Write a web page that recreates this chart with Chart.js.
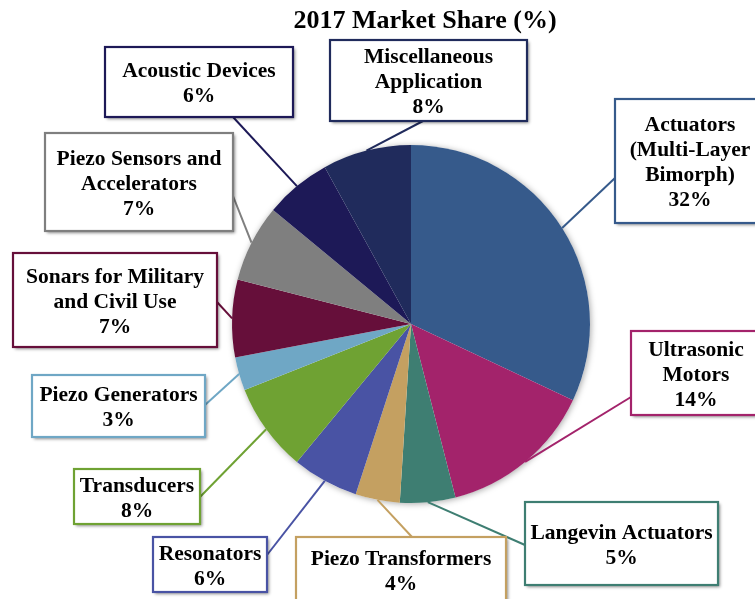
<!DOCTYPE html>
<html>
<head>
<meta charset="utf-8">
<script src="https://cdn.jsdelivr.net/npm/chart.js@4"></script>
<style>
  body { margin: 0; background: #fff; }
</style>
</head>
<body>
<canvas id="myChart" width="755" height="599"></canvas>
<script>
const ctx = document.getElementById('myChart');

// data, clockwise from 12 o'clock
const labels = [
	"Actuators (Multi-Layer Bimorph)", "Ultrasonic Motors", "Langevin Actuators",
	"Piezo Transformers", "Resonators", "Transducers", "Piezo Generators",
	"Sonars for Military and Civil Use", "Piezo Sensors and Accelerators",
	"Acoustic Devices", "Miscellaneous Application"
];
const shares = [32, 14, 5, 4, 6, 8, 3, 7, 7, 6, 8];
const colors = [
	"#365a8b", "#a3236b", "#3e7e72", "#c4a061", "#4953a4", "#6fa233",
	"#6fa7c5", "#660f3a", "#7f7f7f", "#1d1957", "#202b5c"
];
// text lines of each callout (percent added from shares)
const calloutText = [
	["Actuators", "(Multi-Layer", "Bimorph)"],
	["Ultrasonic", "Motors"],
	["Langevin Actuators"],
	["Piezo Transformers"],
	["Resonators"],
	["Transducers"],
	["Piezo Generators"],
	["Sonars for Military", "and Civil Use"],
	["Piezo Sensors and", "Accelerators"],
	["Acoustic Devices"],
	["Miscellaneous", "Application"]
];

// callout boxes: x, y, w, h and where the leader leaves the box
const boxes = [
	{ x: 615, y: 99, w: 150, h: 124, lx: 615, ly: 178 },
	{ x: 631, y: 331, w: 130, h: 84, lx: 631, ly: 397 },
	{ x: 525, y: 502, w: 193, h: 83, lx: 525, ly: 545 },
	{ x: 296, y: 537, w: 210, h: 66, lx: 412, ly: 537 },
	{ x: 153, y: 537, w: 114, h: 55, lx: 267, ly: 555 },
	{ x: 74, y: 469, w: 126, h: 55, lx: 200, ly: 497 },
	{ x: 32, y: 375, w: 173, h: 62, lx: 205, ly: 405 },
	{ x: 13, y: 253, w: 204, h: 94, lx: 217, ly: 302 },
	{ x: 45, y: 133, w: 188, h: 98, lx: 233, ly: 196 },
	{ x: 105, y: 47, w: 188, h: 70, lx: 233, ly: 117 },
	{ x: 330, y: 40, w: 197, h: 81, lx: 423, ly: 121 }
];

const FONT = '"Liberation Serif", "Times New Roman", serif';

const pieShadow = {
	id: 'pieShadow',
	beforeDatasetsDraw(chart) {
		const arc = chart.getDatasetMeta(0).data[0];
		if (!arc) return;
		const c = chart.ctx;
		c.save();
		c.shadowColor = "rgba(0,0,0,0.35)";
		c.shadowBlur = 6;
		c.shadowOffsetX = 1;
		c.shadowOffsetY = 1;
		c.fillStyle = "#fff";
		c.beginPath();
		c.arc(arc.x, arc.y, arc.outerRadius, 0, Math.PI * 2);
		c.fill();
		c.restore();
	}
};

const callouts = {
	id: 'callouts',
	afterDraw(chart) {
		const c = chart.ctx;
		const arcs = chart.getDatasetMeta(0).data;

		// title
		c.save();
		c.fillStyle = "#000";
		c.font = "bold 26px " + FONT;
		c.textAlign = "center";
		c.textBaseline = "middle";
		c.fillText("2017 Market Share (%)", 425, 21);
		c.restore();

		// leader lines
		arcs.forEach((arc, i) => {
			const mid = (arc.startAngle + arc.endAngle) / 2;
			const px = arc.x + Math.cos(mid) * arc.outerRadius;
			const py = arc.y + Math.sin(mid) * arc.outerRadius;
			c.save();
			c.strokeStyle = colors[i];
			c.lineWidth = 2;
			c.beginPath();
			c.moveTo(boxes[i].lx, boxes[i].ly);
			c.lineTo(px, py);
			c.stroke();
			c.restore();
		});

		// boxes + text
		arcs.forEach((arc, i) => {
			const b = boxes[i];
			c.save();
			c.shadowColor = "rgba(0,0,0,0.45)";
			c.shadowBlur = 3;
			c.shadowOffsetX = 2;
			c.shadowOffsetY = 2;
			c.fillStyle = "#fff";
			c.fillRect(b.x, b.y, b.w, b.h);
			c.shadowColor = "transparent";
			c.strokeStyle = colors[i];
			c.lineWidth = 2.2;
			c.strokeRect(b.x, b.y, b.w, b.h);

			const lines = calloutText[i].concat([shares[i] + "%"]);
			const lh = 25;
			const cx = b.x + b.w / 2;
			const cy = b.y + b.h / 2 + 2;
			c.fillStyle = "#000";
			c.font = "bold 21.5px " + FONT;
			c.textAlign = "center";
			c.textBaseline = "middle";
			lines.forEach((t, k) => {
				c.fillText(t, cx, cy + (k - (lines.length - 1) / 2) * lh);
			});
			c.restore();
		});
	}
};

new Chart(ctx, {
	type: 'pie',
	data: {
		labels: labels,
		datasets: [{
			data: shares,
			backgroundColor: colors,
			borderWidth: 0,
			offset: 0,
			hoverOffset: 0
		}]
	},
	options: {
		responsive: false,
		animation: false,
		layout: {
			padding: { left: 232, right: 165, top: 145, bottom: 96 }
		},
		plugins: {
			legend: { display: false },
			tooltip: { enabled: false },
			title: { display: false }
		}
	},
	plugins: [pieShadow, callouts]
});
</script>
</body>
</html>
